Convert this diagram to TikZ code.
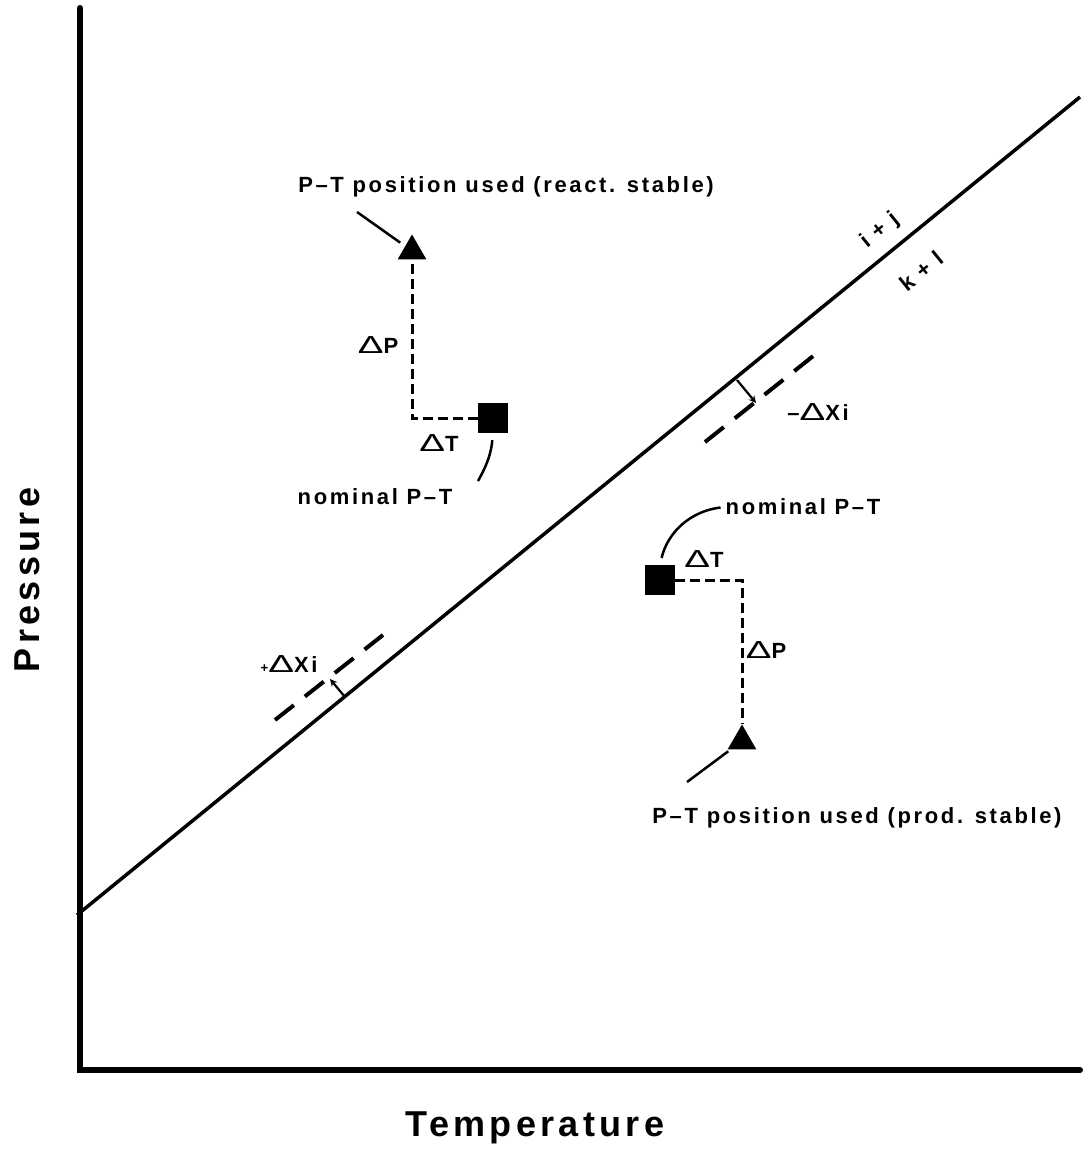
\documentclass[tikz,border=0pt]{standalone}
\usepackage{fontspec}
\setmainfont{Liberation Sans}[LetterSpace=12]
\usetikzlibrary{shapes,arrows,positioning}

\newcommand{\notefont}{\fontsize{22}{26}\selectfont\bfseries}
\newcommand{\axisfont}{\fontsize{36}{42}\selectfont\bfseries}
\newcommand{\dlt}{{\mdseries\scalebox{1.75}[1.12]{Δ}}}

\begin{document}
\begin{tikzpicture}[x=1pt, y=-1pt, node distance=2cm, auto, >=stealth]
    % Define styles
    \tikzstyle{note} = [font=\notefont, inner sep=1pt]
    \tikzstyle{axisname} = [font=\axisfont, inner sep=1pt]
    \tikzstyle{nominal} = [rectangle, fill=black, minimum size=30pt, inner sep=0pt]
    \tikzstyle{used} = [regular polygon, regular polygon sides=3, fill=black, minimum size=33pt, inner sep=0pt]
    \tikzstyle{axisline} = [line width=6pt, line cap=round]
    \tikzstyle{curve} = [line width=3.5pt]
    \tikzstyle{pathdash} = [line width=3pt, dash pattern=on 10pt off 5pt]
    \tikzstyle{offsetdash} = [line width=4pt, dash pattern=on 24pt off 14pt]
    \tikzstyle{pointer} = [line width=2.5pt]
    \tikzstyle{shiftarrow} = [->, line width=2.2pt]

    \useasboundingbox (0,0) rectangle (1090,1157);

    % Axes and reaction curve
    \draw[axisline] (80,8) -- (80,1070) -- (1080,1070);
    \coordinate (curve start) at (77,915);
    \coordinate (curve end) at (1080,97);
    \draw[curve] (curve start) -- (curve end);
    \node[axisname] (temp) at (535,1128) {Temperature};
    \node[axisname, rotate=90] (pres) at (27,580) {Pressure};
    \node[note, rotate=39, inner sep=0pt] (ij) at (880,231) {i + j};
    \node[note, rotate=39, inner sep=0pt] (kl) at (921,271) {k + l};

    % Nodes
    \node[nominal] (sq1) at (493,418) {};
    \node[used] (tri1) at (412,251) {};
    \node[note] (dp1) at (378,345) {\dlt P};
    \node[note] (dt1) at (439,443) {\dlt T};
    \node[note] (used1) at (506,187) {P–T position used (react. stable)};
    \node[note] (nom1) at (375,497) {nominal P–T};
    \node[nominal] (sq2) at (660,580) {};
    \node[used] (tri2) at (742,741) {};
    \node[note] (dt2) at (704,559) {\dlt T};
    \node[note] (dp2) at (766,650) {\dlt P};
    \node[note] (nom2) at (803,507) {nominal P–T};
    \node[note] (used2) at (857,818) {P–T position used (prod. stable)};
    \node[note] (dx1) at (818,412) {–\dlt Xi};
    \node[note] (dx2) at (289,664) {\scalebox{0.6}{+}\dlt Xi};

    % Free ends
    \coordinate (tip1) at (357,212);
    \coordinate (tip2) at (687,782);
    \coordinate (nom1 end) at (478,481);
    \coordinate (off1 a) at (705,442);
    \coordinate (off1 b) at (817,353);
    \coordinate (off2 a) at (275,720);
    \coordinate (off2 b) at (383,635);
    \coordinate (arr1 a) at (737,380);
    \coordinate (arr1 b) at (756,403);
    \coordinate (arr2 a) at (345,697);
    \coordinate (arr2 b) at (330,679);

    % Connections
    \draw[pathdash] (sq1) -| (tri1);
    \draw[pathdash] (sq2) -| (tri2);
    \draw[pointer, shorten >=6pt] (tip1) -- (tri1);
    \draw[pointer, shorten >=3pt] (tip2) -- (tri2);
    \draw[pointer, shorten <=7pt] (sq1.south) to[bend left=12] (nom1 end);
    \draw[pointer, shorten <=7pt, shorten >=4pt] (sq2.north) to[bend left=35] (nom2.west);
    \draw[offsetdash] (off1 a) -- (off1 b);
    \draw[offsetdash] (off2 a) -- (off2 b);
    \draw[shiftarrow] (arr1 a) -- (arr1 b);
    \draw[shiftarrow] (arr2 a) -- (arr2 b);
\end{tikzpicture}
\end{document}
